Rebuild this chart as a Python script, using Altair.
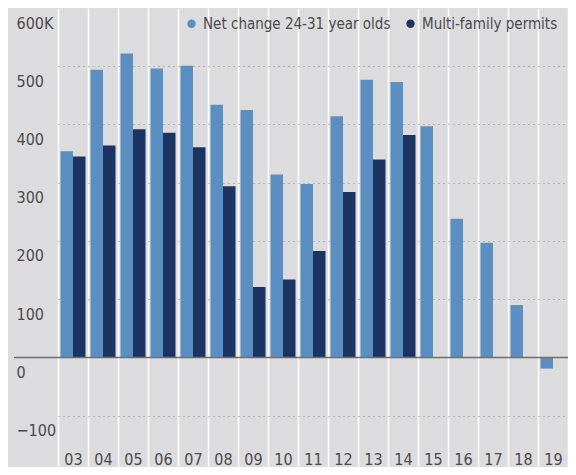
import altair as alt
import pandas as pd

years = ["03", "04", "05", "06", "07", "08", "09", "10", "11", "12",
         "13", "14", "15", "16", "17", "18", "19"]
net_change = [354, 494, 522, 496, 501, 434, 425, 314, 298, 414,
              477, 473, 397, 238, 197, 90, -19]
permits = [345, 364, 392, 386, 361, 294, 121, 134, 183, 284, 340, 382]
series = ["Net change 24-31 year olds", "Multi-family permits"]
colors = ["#5b8fc1", "#1c3462"]
y_ticks = [-100, 0, 100, 200, 300, 400, 500, 600]

rows = []
for i, yr in enumerate(years):
    rows.append({"year": yr, "series": series[0], "value": net_change[i]})
    if i < len(permits):
        rows.append({"year": yr, "series": series[1], "value": permits[i]})
df = pd.DataFrame(rows)

FONT = "Liberation Sans Narrow, DejaVu Sans Condensed, Roboto, sans-serif"
TXT = "#4a4a4a"
BG = "#dcdcde"
W = 554
H = 459

x_enc = alt.X(
    "year:N", sort=years,
    scale=alt.Scale(range=[44, W], paddingInner=0, paddingOuter=0),
    axis=alt.Axis(title=None, orient="bottom", ticks=False, tickSize=0, domain=False,
                  labelPadding=-8, labelBaseline="middle", labelAngle=0,
                  labelFontSize=16, labelColor=TXT, labelFont=FONT,
                  grid=True, gridColor="white", gridWidth=1.5, tickBand="extent"),
)
y_enc = alt.Y(
    "value:Q",
    scale=alt.Scale(domain=[-188, 600], nice=False, zero=False),
    axis=alt.Axis(title=None, values=y_ticks, ticks=False, tickSize=0, domain=False,
                  labelAlign="left", labelPadding=-2, labelBaseline="middle",
                  labelOffset=15, labelFontSize=16, labelColor=TXT, labelFont=FONT,
                  labelExpr="datum.value == 600 ? '600K' : (datum.value < 0 ? '\u2212' + (-datum.value) : '' + datum.value)",
                  gridColor="#8a8a8a", gridDash=[1, 4], gridWidth=1.2,
                  gridOpacity={"condition": {"test": "datum.value == 0 || datum.value == 600", "value": 0}, "value": 1}),
)

bars = alt.Chart(df).mark_bar().encode(
    x=x_enc,
    y=y_enc,
    xOffset=alt.XOffset("series:N", sort=series,
                        scale=alt.Scale(paddingInner=0, paddingOuter=0.2)),
    color=alt.Color("series:N", sort=series,
                    scale=alt.Scale(domain=series, range=colors),
                    legend=alt.Legend(title=None, orient="none", legendX=170, legendY=8,
                                      direction="horizontal", symbolType="circle",
                                      symbolSize=70, symbolStrokeWidth=0,
                                      labelFontSize=15, labelFont=FONT, labelColor=TXT,
                                      labelLimit=400, labelOffset=4, columnPadding=12,
                                      padding=0)),
)

zero = alt.Chart(pd.DataFrame({"v": [0]})).mark_rule(color="#6e6e6e", strokeWidth=1.5).encode(
    y=alt.Y("v:Q")
)

chart = alt.layer(bars, zero).properties(
    width=W, height=H,
    padding={"left": 6, "top": 0, "right": 0, "bottom": 0},
    autosize=alt.AutoSizeParams(type="none"),
    background=BG,
).configure_view(stroke=None, fill=BG)

chart.save("out.html", embed_options={"renderer": "svg", "actions": False})
